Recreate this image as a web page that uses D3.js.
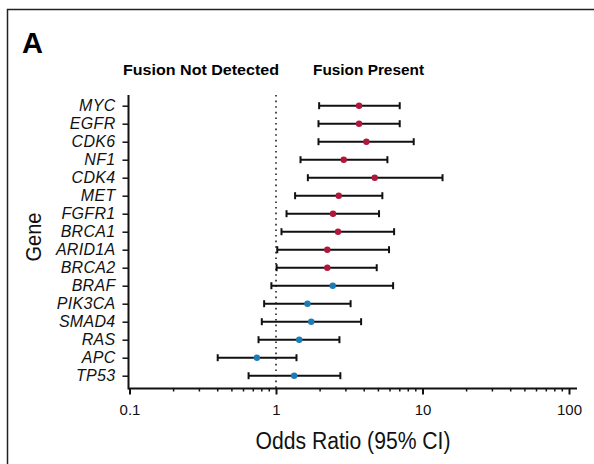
<!DOCTYPE html>
<html>
<head>
<meta charset="utf-8">
<script src="https://cdn.jsdelivr.net/npm/d3@7"></script>
<style>
  body { margin: 0; background: #fff; }
  svg { display: block; }
</style>
</head>
<body>
<div id="chart"></div>
<script>
// Data
var genes = ["MYC", "EGFR", "CDK6", "NF1", "CDK4", "MET", "FGFR1", "BRCA1", "ARID1A", "BRCA2", "BRAF", "PIK3CA", "SMAD4", "RAS", "APC", "TP53"];
var oddsRatio = [3.69, 3.69, 4.14, 2.90, 4.72, 2.68, 2.45, 2.65, 2.24, 2.24, 2.44, 1.64, 1.74, 1.44, 0.74, 1.33];
var ciLow = [1.97, 1.95, 1.95, 1.47, 1.65, 1.35, 1.18, 1.09, 1.02, 1.01, 0.93, 0.83, 0.80, 0.76, 0.40, 0.65];
var ciHigh = [6.99, 6.99, 8.71, 5.76, 13.7, 5.32, 5.05, 6.40, 5.91, 4.87, 6.30, 3.23, 3.81, 2.71, 1.38, 2.75];
var group = ["present", "present", "present", "present", "present", "present", "present", "present", "present", "present", "none", "none", "none", "none", "none", "none"];
var xTicks = [0.1, 1, 10, 100];
var xTickLabels = ["0.1", "1", "10", "100"];

var width = 594, height = 464;

var svg = d3.select("#chart").append("svg")
    .attr("width", width)
    .attr("height", height);

// Scales
var xScale = d3.scaleLog()
    .domain([0.1, 100])
    .range([129.5, 569]);
var yScale = d3.scalePoint()
    .domain(genes)
    .range([105.7, 375.7]);
var cScale = d3.scaleOrdinal()
    .domain(["present", "none"])
    .range(["#b0173a", "#1b7db8"]);

var axisY = 388.5;
var axisTop = 95;

// Panel frame (top and left edges)
svg.append("path")
    .attr("d", "M7.5," + height + "V9.5H" + width)
    .attr("fill", "none")
    .attr("stroke", "#222")
    .attr("stroke-width", 1.5);

svg.append("text")
    .attr("x", 22)
    .attr("y", 53)
    .style("font-family", "'Liberation Sans', Arial, sans-serif")
    .style("font-weight", "bold")
    .style("font-size", "29px")
    .text("A");

// Header labels
svg.append("text")
    .attr("x", 201)
    .attr("y", 75)
    .attr("text-anchor", "middle")
    .attr("textLength", 156)
    .attr("lengthAdjust", "spacingAndGlyphs")
    .style("font-family", "'Liberation Sans', Arial, sans-serif")
    .style("font-weight", "bold")
    .style("font-size", "15px")
    .text("Fusion Not Detected");
svg.append("text")
    .attr("x", 368.5)
    .attr("y", 75)
    .attr("text-anchor", "middle")
    .attr("textLength", 111)
    .attr("lengthAdjust", "spacingAndGlyphs")
    .style("font-family", "'Liberation Sans', Arial, sans-serif")
    .style("font-weight", "bold")
    .style("font-size", "15px")
    .text("Fusion Present");

// Reference line at OR = 1
svg.append("line")
    .attr("x1", xScale(1))
    .attr("x2", xScale(1))
    .attr("y1", axisTop)
    .attr("y2", axisY)
    .attr("stroke", "#111")
    .attr("stroke-width", 1.5)
    .attr("stroke-dasharray", "1.6,4");

// X axis with major and minor ticks
var xAxis = d3.axisBottom(xScale)
    .tickValues(xTicks)
    .tickFormat((d, i) => xTickLabels[i])
    .tickSize(6)
    .tickSizeOuter(0)
    .tickPadding(10);
var xAxisG = svg.append("g")
    .attr("transform", "translate(0," + axisY + ")")
    .call(xAxis);
xAxisG.select(".domain").remove();
xAxisG.append("line")
    .attr("x1", xScale(0.1) - 1)
    .attr("x2", 577)
    .attr("stroke", "#111")
    .attr("stroke-width", 2);
xAxisG.selectAll(".tick line")
    .attr("stroke", "#111")
    .attr("stroke-width", 2);
xAxisG.selectAll(".tick text")
    .style("font-family", "'Liberation Sans', Arial, sans-serif")
    .style("font-size", "15px")
    .attr("fill", "#111");

var minorTicks = [];
[0.1, 1, 10].forEach(function(base) {
    for (var k = 2; k <= 9; k++) minorTicks.push(base * k);
});
xAxisG.selectAll(".minor")
    .data(minorTicks)
    .enter()
    .append("line")
    .attr("class", "minor")
    .attr("x1", d => xScale(d))
    .attr("x2", d => xScale(d))
    .attr("y1", 0)
    .attr("y2", 3)
    .attr("stroke", "#111")
    .attr("stroke-width", 1.5);

svg.append("text")
    .attr("x", 353)
    .attr("y", 449)
    .attr("text-anchor", "middle")
    .attr("textLength", 195)
    .attr("lengthAdjust", "spacingAndGlyphs")
    .style("font-family", "'Liberation Sans', Arial, sans-serif")
    .style("font-size", "23px")
    .attr("fill", "#111")
    .text("Odds Ratio (95% CI)");

// Y axis
var yAxis = d3.axisLeft(yScale)
    .tickSize(6)
    .tickPadding(7);
var yAxisG = svg.append("g")
    .attr("transform", "translate(" + 128.5 + ",0)")
    .call(yAxis);
yAxisG.select(".domain").remove();
yAxisG.append("line")
    .attr("y1", axisTop)
    .attr("y2", axisY + 1)
    .attr("stroke", "#111")
    .attr("stroke-width", 2);
yAxisG.selectAll(".tick line")
    .attr("stroke", "#111")
    .attr("stroke-width", 1.5);
yAxisG.selectAll(".tick text")
    .style("font-family", "'Liberation Sans', Arial, sans-serif")
    .style("font-style", "italic")
    .style("font-size", "16px")
    .style("letter-spacing", "0.3px")
    .attr("fill", "#111");

svg.append("text")
    .attr("transform", "translate(41,237) rotate(-90)")
    .attr("text-anchor", "middle")
    .attr("textLength", 49)
    .attr("lengthAdjust", "spacingAndGlyphs")
    .style("font-family", "'Liberation Sans', Arial, sans-serif")
    .style("font-size", "22px")
    .attr("fill", "#111")
    .text("Gene");

// Error bars
var rows = svg.selectAll(".row")
    .data(genes)
    .enter()
    .append("g")
    .attr("class", "row");

rows.append("line")
    .attr("x1", (d, i) => xScale(ciLow[i]))
    .attr("x2", (d, i) => xScale(ciHigh[i]))
    .attr("y1", d => yScale(d))
    .attr("y2", d => yScale(d))
    .attr("stroke", "#111")
    .attr("stroke-width", 2);
rows.append("line")
    .attr("x1", (d, i) => xScale(ciLow[i]))
    .attr("x2", (d, i) => xScale(ciLow[i]))
    .attr("y1", d => yScale(d) - 3.5)
    .attr("y2", d => yScale(d) + 3.5)
    .attr("stroke", "#111")
    .attr("stroke-width", 2);
rows.append("line")
    .attr("x1", (d, i) => xScale(ciHigh[i]))
    .attr("x2", (d, i) => xScale(ciHigh[i]))
    .attr("y1", d => yScale(d) - 3.5)
    .attr("y2", d => yScale(d) + 3.5)
    .attr("stroke", "#111")
    .attr("stroke-width", 2);
rows.append("circle")
    .attr("cx", (d, i) => xScale(oddsRatio[i]))
    .attr("cy", d => yScale(d))
    .attr("r", 3.2)
    .attr("fill", (d, i) => cScale(group[i]));
</script>
</body>
</html>
